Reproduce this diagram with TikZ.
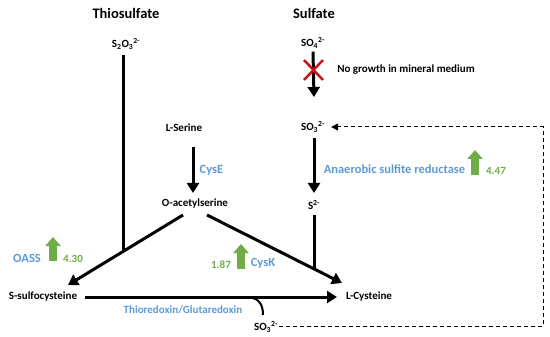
\documentclass[tikz,border=0pt]{standalone}
\usepackage{fontspec}
\setmainfont{Carlito}
\usetikzlibrary{arrows.meta}

\definecolor{enzblue}{RGB}{91,155,213}
\definecolor{upgreen}{RGB}{112,173,71}
\definecolor{crossred}{RGB}{200,20,20}

\tikzset{
  met/.style={font=\fontsize{11}{12}\selectfont\bfseries, inner sep=1pt},
  title/.style={font=\fontsize{14.5}{16}\selectfont\bfseries},
  enz/.style={font=\fontsize{12.5}{14}\selectfont\bfseries, text=enzblue, inner sep=1pt},
  enzsmall/.style={enz, font=\fontsize{11}{13}\selectfont\bfseries},
  fold/.style={font=\fontsize{11}{12}\selectfont\bfseries, text=upgreen, inner sep=1pt},
  flux/.style={line width=3pt},
  fluxarrow/.style={line width=3pt, -{Triangle[length=10pt,width=12pt]}},
  uparrow/.style={line width=7.5pt, draw=upgreen, -{Triangle[length=9pt,width=15pt]}},
  loop/.style={line width=1pt, dashed, dash pattern=on 4pt off 3pt, -{Triangle[length=7pt,width=7pt]}}
}

\begin{document}
\begin{tikzpicture}[x=1pt,y=-1pt]
\useasboundingbox (0,0) rectangle (550,337);
% titles
\node[title] (thio) at (126,13) {Thiosulfate};
\node[title] (sulf) at (314,13) {Sulfate};
% metabolites
\node[met] (s2o3) at (126,44) {S\textsubscript{2}O\textsubscript{3}\textsuperscript{2-}};
\node[met] (so4) at (313,43) {SO\textsubscript{4}\textsuperscript{2-}};
\node[met] (so3) at (313,127) {SO\textsubscript{3}\textsuperscript{2-}};
\node[met] (s2) at (314,205) {S\textsuperscript{2-}};
\node[met] (ser) at (184,128) {L-Serine};
\node[met] (oas) at (195,204) {O-acetylserine};
\node[met] (ssc) at (43,297) {S-sulfocysteine};
\node[met] (cys) at (369,297) {L-Cysteine};
\node[met] (so3b) at (266,327) {SO\textsubscript{3}\textsuperscript{2-}};
% enzymes and fold changes
\node[enz] (cyse) at (211.5,170) {CysE};
\node[enz] (asr) at (394.5,169) {Anaerobic sulfite reductase};
\node[enz] (oass) at (27,258) {OASS};
\node[enz] (cysk) at (263,263) {CysK};
\node[enzsmall] (trx) at (183,310) {Thioredoxin/Glutaredoxin};
\node[fold] (f447) at (496,171) {4.47};
\node[fold] (f430) at (73,259) {4.30};
\node[fold] (f187) at (221,265) {1.87};
\node[font=\fontsize{11}{12}\selectfont\bfseries] (nogrowth) at (406,70) {No growth in mineral medium};
% junctions
\coordinate (oasL) at (183,215);
\coordinate (oasR) at (207,215);
\coordinate (sscT) at (68,285);
\coordinate (cysT) at (342,283);
\coordinate (j1) at (123,251);
\coordinate (j2) at (314,269);
\coordinate (sscE) at (85,297);
\coordinate (cysW) at (337,297);
% sulfate branch
\draw[fluxarrow] (so4.south) ++(0,2) -- (314,97);
\draw[line width=2.5pt, crossred] (304,60) -- (323,80) (304,80) -- (323,60);
\draw[fluxarrow] (314,138) -- (314,193);
\draw[flux] (314,215) -- (j2);
% serine branch
\draw[fluxarrow] (193,147) -- (193,193);
\draw[fluxarrow] (oasL) -- (sscT);
\draw[fluxarrow] (oasR) -- (cysT);
% thiosulfate branch
\draw[flux] (123,55) -- (j1);
\draw[fluxarrow] (sscE) -- (cysW);
\draw[line width=2pt] (245,297) .. controls (258,297) and (263,303) .. (263,315);
% sulfite recycling
\coordinate (loopR) at (543,326);
\draw[loop] (so3b.east |- loopR) -- (loopR) |- ([xshift=5pt]so3.east);
% up-regulation arrows
\draw[uparrow] (475,175) -- (475,150);
\draw[uparrow] (53,261) -- (53,237);
\draw[uparrow] (241,269) -- (241,244);
\end{tikzpicture}
\end{document}
